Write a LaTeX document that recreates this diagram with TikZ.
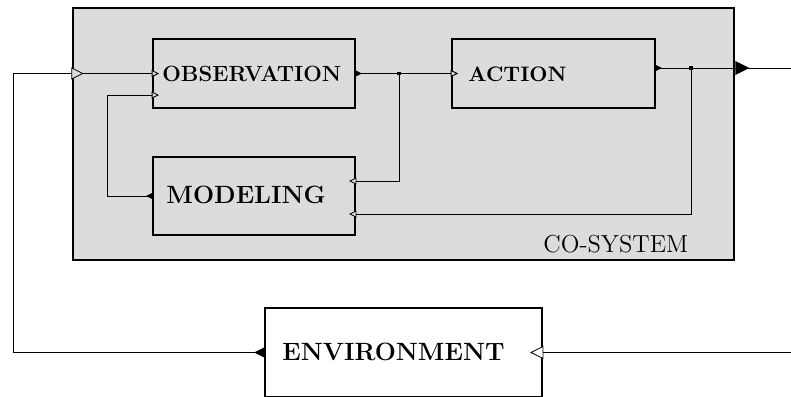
\documentclass[tikz,border=0pt]{standalone}
\usetikzlibrary{calc}
\definecolor{boxgray}{HTML}{DCDCDC}
\tikzset{
  pics/outp/.style={code={\fill[black] (0,-#1/2) -- (#1,0) -- (0,#1/2) -- cycle;}},
  pics/inp/.style={code={\filldraw[fill=boxgray,draw=black,line width=0.4pt] (0,-#1/2) -- (#1,0) -- (0,#1/2) -- cycle;}},
  pics/inpw/.style={code={\filldraw[fill=white,draw=black,line width=0.4pt] (0,-#1/2) -- (#1,0) -- (0,#1/2) -- cycle;}},
}
\begin{document}
\begin{tikzpicture}[x=0.5pt,y=-0.5pt,
  sysbox/.style={draw=black,line width=1.3pt,fill=boxgray,inner sep=0pt,minimum width=330.5pt,minimum height=126pt},
  blockbox/.style={draw=black,line width=0.9pt,fill=boxgray,inner sep=0pt},
  smalllbl/.style={inner sep=0pt,anchor=base west,font=\fontsize{10.5}{12}\selectfont\bfseries},
  biglbl/.style={inner sep=0pt,anchor=base west,font=\fontsize{12.5}{14}\selectfont\bfseries},
  syslbl/.style={inner sep=0pt,anchor=base west,font=\fontsize{12.3}{14}\selectfont},
  conn/.style={draw=black,line width=0.5pt},
  jdot/.style={fill=black,rectangle,inner sep=0pt,minimum size=1.8pt}]
\useasboundingbox (0,0) rectangle (791,396);
% boxes
\node[sysbox] (cs) at (403.5,134) {};
\node[blockbox,minimum width=101pt,minimum height=34.5pt] (obs) at (254,73.5) {};
\node[blockbox,minimum width=101.5pt,minimum height=34.5pt] (act) at (553.5,73.5) {};
\node[blockbox,minimum width=101pt,minimum height=39pt] (mod) at (254,196) {};
\node[blockbox,fill=white,minimum width=138.5pt,minimum height=44.5pt] (env) at (403.5,352.5) {};
% labels
\node[smalllbl,font=\fontsize{11}{12}\selectfont\bfseries] (obsT) at (162,81) {OBSERVATION};
\node[smalllbl] (actT) at (468,81) {ACTION};
\node[biglbl] (modT) at (166,203) {MODELING};
\node[biglbl] (envT) at (282,360) {ENVIRONMENT};
\node[syslbl] (csT) at (543,252) {CO-SYSTEM};
% helper points
\coordinate (L) at (13,73.5);
\coordinate (ML) at (107,95);
\coordinate (R) at (791,68);
\coordinate (R2) at (791,352.5);
\coordinate (actout) at ($(act.east)+(0,-5.5)$);
\coordinate (obsin2) at ($(obs.west)+(0,21.5)$);
\coordinate (modin1) at ($(mod.east)+(0,-15)$);
\coordinate (modin2) at ($(mod.east)+(0,18)$);
\node[jdot] (J1) at (399,73.5) {};
\node[jdot] (J2) at (691,68) {};
% connectors
\draw[conn] (env.west) -| (L) -- (obs.west);
\draw[conn] (obs.east) -- (act.west);
\draw[conn] (J1.center) |- (modin1);
\draw[conn] (actout) -- (R);
\draw[conn] (J2.center) |- (modin2);
\draw[conn] (mod.west) -| (ML) -- (obsin2);
\draw[conn] (R2) -- (env.east);
% port markers
\pic at (cs.west|-L) {inp=5.5pt};
\pic at (obs.west) {inp=3pt};
\pic at (obsin2) {inp=3pt};
\pic at (obs.east) {outp=3pt};
\pic at (act.west) {inp=3pt};
\pic at (actout) {outp=3pt};
\pic at (cs.east|-R) {outp=7pt};
\pic[rotate=180] at (modin1) {inp=3pt};
\pic[rotate=180] at (modin2) {inp=3pt};
\pic[rotate=180] at (mod.west) {outp=3pt};
\pic[rotate=180] at (env.west) {outp=5pt};
\pic[rotate=180] at (env.east) {inpw=6pt};
\end{tikzpicture}
\end{document}
